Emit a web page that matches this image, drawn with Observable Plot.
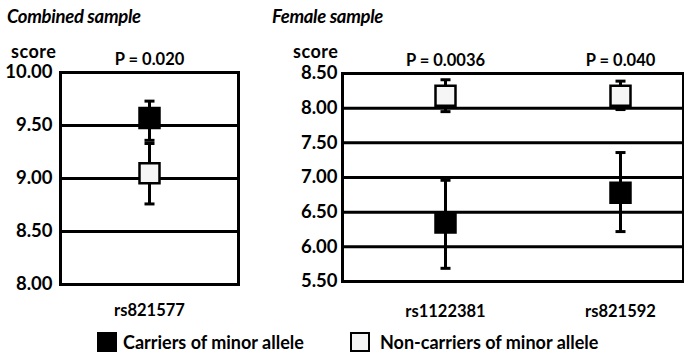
<!DOCTYPE html>
<html>
<head>
<meta charset="utf-8">
<script src="https://cdn.jsdelivr.net/npm/d3@7"></script>
<script src="https://cdn.jsdelivr.net/npm/@observablehq/plot@0.6"></script>
<style>
  html, body { margin: 0; padding: 0; background: #fff; }
  #root { position: relative; width: 684px; height: 356px; font-family: Lato, "Open Sans", sans-serif; font-weight: 700; color: #000; overflow: hidden; }
  .abs { position: absolute; white-space: nowrap; line-height: 1; }
  .title { font-style: italic; font-size: 18.5px; letter-spacing: -0.3px; }
  .lbl { font-size: 18px; letter-spacing: 0.5px; }
  .leg { font-size: 18px; }
  .sw { position: absolute; width: 20px; height: 20px; box-sizing: border-box; }
  svg { position: absolute; top: 0; overflow: visible; }
</style>
</head>
<body>
<div id="root"></div>
<script>
// ---- data ----
const snps = ["rs821577", "rs1122381", "rs821592"];
const panels = ["Combined sample", "Female sample", "Female sample"];
const carrierMean = [9.57, 6.35, 6.78];
const carrierLo = [9.36, 5.69, 6.22];
const carrierHi = [9.73, 6.96, 7.36];
const nonCarrierMean = [9.05, 8.18, 8.18];
const nonCarrierLo = [8.76, 7.95, 7.98];
const nonCarrierHi = [9.33, 8.41, 8.39];
const pValues = ["P = 0.020", "P = 0.0036", "P = 0.040"];
const groups = ["Carriers of minor allele", "Non-carriers of minor allele"];
const groupFill = ["#000000", "#f6f6f6"];
const yTicksCombined = [8.0, 8.5, 9.0, 9.5, 10.0];
const yTicksFemale = [5.5, 6.0, 6.5, 7.0, 7.5, 8.0, 8.5];

// ---- build rows ----
const rows = [];
snps.forEach((s, i) => {
  rows.push({snp: s, panel: panels[i], group: groups[0], mean: carrierMean[i], lo: carrierLo[i], hi: carrierHi[i]});
  rows.push({snp: s, panel: panels[i], group: groups[1], mean: nonCarrierMean[i], lo: nonCarrierLo[i], hi: nonCarrierHi[i]});
});
const pRows = snps.map((s, i) => ({snp: s, panel: panels[i], p: pValues[i]}));

const cap = {
  draw(context, size) {
    const w = Math.sqrt(size / Math.PI);
    context.moveTo(-w, 0);
    context.lineTo(w, 0);
  }
};

const style = {fontFamily: "Lato, 'Open Sans', sans-serif", fontSize: "16px", fontWeight: 700, color: "#000", background: "transparent"};

function panelPlot(panel, opts) {
  const data = rows.filter(d => d.panel === panel);
  const pd = pRows.filter(d => d.panel === panel);
  const ticks = opts.ticks;
  const inner = ticks.slice(1, -1);
  return Plot.plot({
    width: opts.width,
    height: opts.height,
    marginLeft: opts.marginLeft,
    marginRight: opts.marginRight,
    marginTop: opts.marginTop,
    marginBottom: opts.marginBottom,
    style,
    x: {type: "point", domain: pd.map(d => d.snp), range: opts.xRange, padding: opts.xPadding, axis: null},
    y: {domain: [ticks[0], ticks[ticks.length - 1]], axis: null},
    color: {domain: groups, range: groupFill},
    marks: [
      Plot.ruleY(inner, {stroke: "black", strokeWidth: 3}),
      Plot.frame({stroke: "black", strokeWidth: 3}),
      Plot.axisY({ticks, tickFormat: d3.format(".2f"), tickSize: 0, tickPadding: opts.tickPadding, label: null, fontSize: 18.5}),
      Plot.axisX({tickSize: 0, tickPadding: opts.xPad, label: null, fontSize: 16.5}),
      Plot.ruleX(data, {x: "snp", y1: "lo", y2: "hi", stroke: "black", strokeWidth: 3}),
      Plot.dot(data, {x: "snp", y: "hi", symbol: cap, r: 5, fill: "none", stroke: "black", strokeWidth: 3}),
      Plot.dot(data, {x: "snp", y: "lo", symbol: cap, r: 5, fill: "none", stroke: "black", strokeWidth: 3}),
      Plot.dot(data, {x: "snp", y: "mean", symbol: "square", r: 11.28, fill: "group", stroke: "black", strokeWidth: 2.5}),
      Plot.text(pd, {x: "snp", text: "p", frameAnchor: "top", dy: -19, fontSize: 16.5})
    ]
  });
}

const root = document.getElementById("root");

const left = panelPlot("Combined sample", {
  width: 250, height: 320, marginLeft: 60, marginRight: 12, marginTop: 72, marginBottom: 36,
  ticks: yTicksCombined, tickPadding: 8, xPad: 20, xRange: [60, 238], xPadding: 0.5
});
left.style.left = "0px";
root.appendChild(left);

const right = panelPlot("Female sample", {
  width: 434, height: 320, marginLeft: 92, marginRight: 1, marginTop: 73, marginBottom: 39,
  ticks: yTicksFemale, tickPadding: 5, xPad: 24, xRange: [195, 370], xPadding: 0
});
right.style.left = "250px";
root.appendChild(right);

function addText(txt, x, y, cls) {
  const el = document.createElement("div");
  el.className = "abs " + cls;
  el.textContent = txt;
  el.style.left = x + "px";
  el.style.top = y + "px";
  root.appendChild(el);
  return el;
}
// panel titles and y labels
addText(panels[0], 7, 7, "title");
addText(panels[1], 272, 7, "title");
addText("score", 11, 42, "lbl");
addText("score", 293, 42, "lbl");

// legend
const swX = [97, 350];
const txX = [123, 380];
groups.forEach((g, i) => {
  const sw = document.createElement("div");
  sw.className = "sw";
  sw.style.left = swX[i] + "px";
  sw.style.top = "332px";
  sw.style.background = groupFill[i];
  sw.style.border = "2.5px solid #000";
  root.appendChild(sw);
  addText(g, txX[i], 333, "leg");
});
</script>
</body>
</html>
